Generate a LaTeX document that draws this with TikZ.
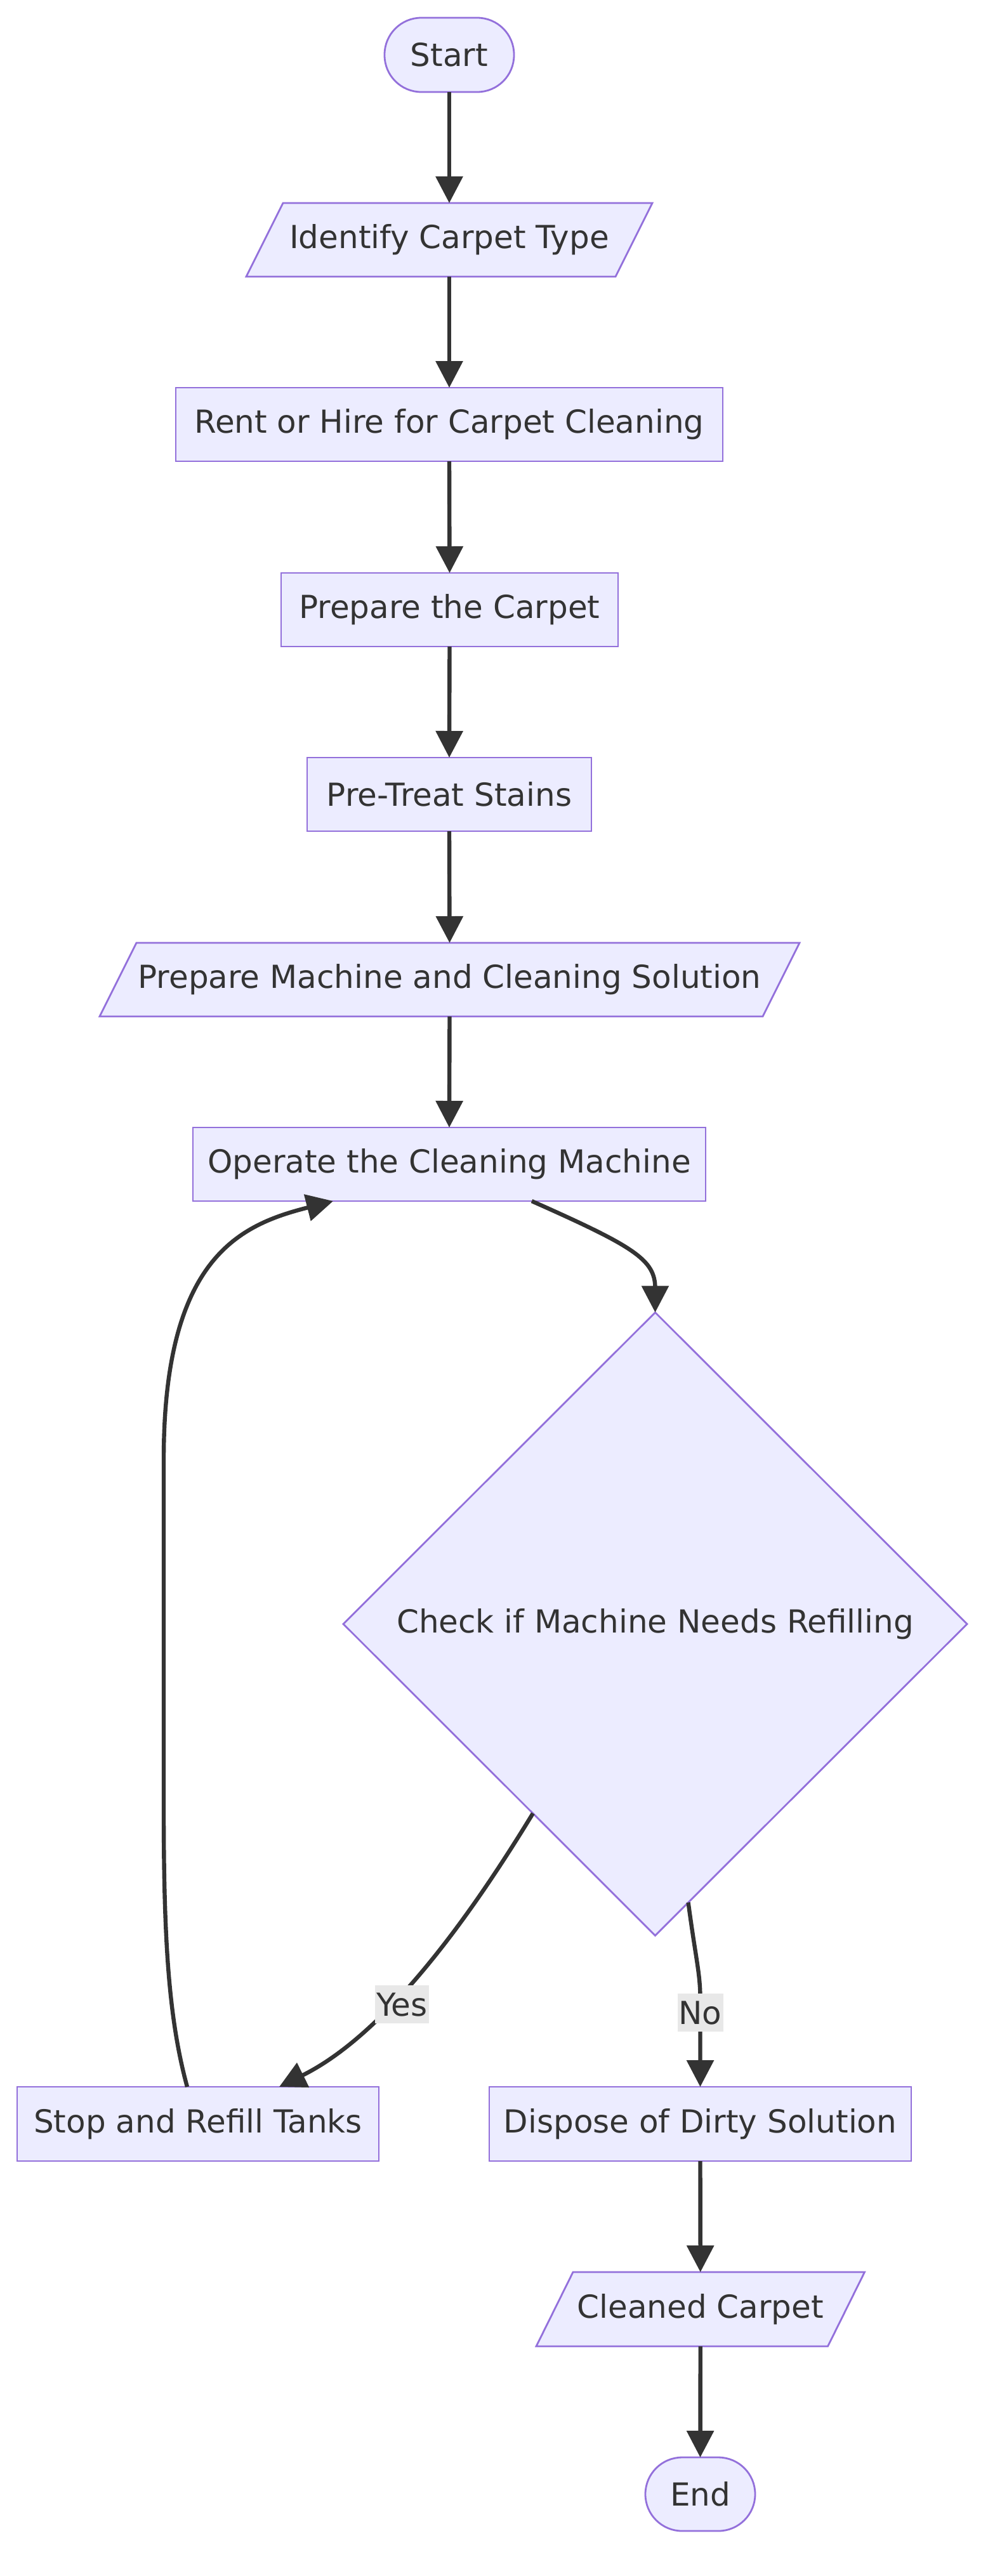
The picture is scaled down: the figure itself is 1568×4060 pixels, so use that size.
\documentclass[tikz,border=0pt]{standalone}
\usepackage{fontspec}
\setmainfont{DejaVu Sans}
\usetikzlibrary{arrows.meta,shapes.geometric,backgrounds,calc}
\definecolor{nfill}{HTML}{ECECFF}
\definecolor{nline}{HTML}{9370DB}
\definecolor{ink}{HTML}{333333}
\definecolor{lblbg}{HTML}{E8E8E8}
\begin{document}
\begin{tikzpicture}[x=0.5pt,y=-0.5pt,
  base/.style={inner sep=0pt, outer sep=0pt, text=ink, font=\fontsize{25}{30}\selectfont},
  box/.style={base, rectangle, draw=nline, fill=nfill, line width=1.4pt},
  term/.style={box, rounded corners=29pt},
  iobox/.style={base, rectangle},
  para/.style={draw=nline, fill=nfill, line width=1.4pt, line join=miter},
  dec/.style={base, diamond, aspect=1, draw=nline, fill=nfill, line width=1.4pt},
  flow/.style={draw=ink, line width=3.2pt, -{Triangle[length=21pt,width=21pt]}},
  lbl/.style={base, fill=lblbg, inner xsep=1pt, minimum height=30pt}
]
\useasboundingbox (0,0) rectangle (1568,4060);

% nodes
\node[term, minimum width=102pt, minimum height=58.5pt] (start) at (708,86.5) {Start};
\node[iobox, minimum width=291pt, minimum height=58pt] (id) at (708,378) {Identify Carpet Type};
\node[box, minimum width=431pt, minimum height=58pt] (rent) at (708,669) {Rent or Hire for Carpet Cleaning};
\node[box, minimum width=265.5pt, minimum height=58pt] (prep) at (708.5,961) {Prepare the Carpet};
\node[box, minimum width=224pt, minimum height=58pt] (pre) at (708,1252) {Pre-Treat Stains};
\node[iobox, minimum width=522.5pt, minimum height=58pt] (mach) at (708.5,1544) {Prepare Machine and Cleaning Solution};
\node[box, minimum width=404pt, minimum height=58pt] (op) at (708,1835) {Operate the Cleaning Machine};
\node[dec, minimum width=491.5pt, minimum height=491pt] (chk) at (1032.5,2559.5) {Check if Machine Needs Refilling};
\node[box, minimum width=285pt, minimum height=58.5pt] (stop) at (312,3347.5) {Stop and Refill Tanks};
\node[box, minimum width=332.5pt, minimum height=58.5pt] (dis) at (1103.5,3347.5) {Dispose of Dirty Solution};
\node[iobox, minimum width=229.75pt, minimum height=58.5pt] (cc) at (1103.75,3639.5) {Cleaned Carpet};
\node[term, minimum width=86.5pt, minimum height=58pt] (fin) at (1103.5,3931) {End};

% background: white page and parallelogram outlines
\begin{pgfonlayer}{background}
\fill[white] (0,0) rectangle (1568,4060);
\foreach \n in {id,mach,cc}{
  \draw[para] ($(\n.south west)+(-29,0)$) -- ($(\n.north west)+(29,0)$) -- ($(\n.north east)+(29,0)$) -- ($(\n.south east)+(-29,0)$) -- cycle;
}
\end{pgfonlayer}

% connectors
\draw[flow] (start.south) -- (id.north);
\draw[flow] (id.south) -- (rent.north);
\draw[flow] (rent.south) -- (prep.north);
\draw[flow] (prep.south) -- (pre.north);
\draw[flow] (pre.south) -- (mach.north);
\draw[flow] (mach.south) -- (op.north);
\draw[flow] ($(op.south)+(130,0)$) .. controls +(162,72) and +(0,-45) .. ($(chk.north)+(0,-38)$) -- (chk.north);
\draw[flow] ($(chk.west)!0.608!(chk.south)$) .. controls +(-80,131) and +(180,-89) .. node[lbl, pos=0.65, xshift=10pt] {Yes} ($(stop.north)+(128,0)$);
\draw[flow] ($(chk.south)!0.106!(chk.east)$) .. controls +(12,90) and +(0,-40) .. ($(dis.north)+(0,-139)$) -- node[lbl, pos=0.16] {No} (dis.north);
\draw[flow] ($(stop.north)+(-17,0)$) .. controls +(-30,-109) and +(0,200) .. (258,2850) -- (258,2300) .. controls +(0,-320) and +(-145,37) .. ($(op.south)+(-183,0)$);
\draw[flow] (dis.south) -- (cc.north);
\draw[flow] (cc.south) -- (fin.north);
\end{tikzpicture}
\end{document}
